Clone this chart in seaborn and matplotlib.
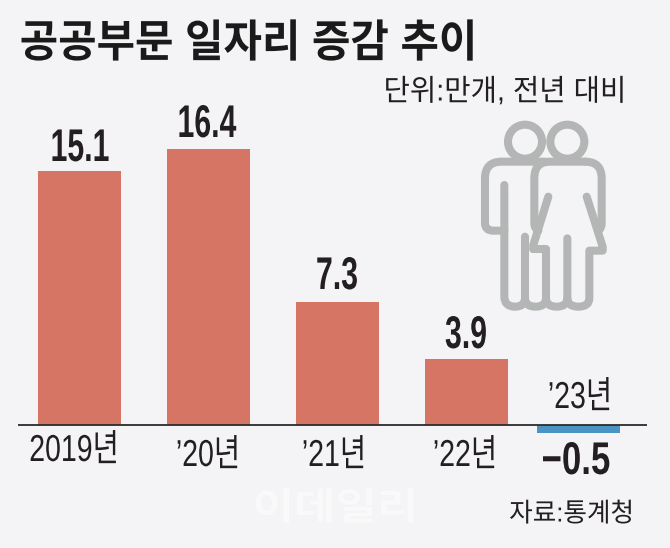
import matplotlib
matplotlib.use("Agg")
import pandas as pd
import seaborn as sns
from matplotlib import pyplot as plt
from matplotlib.patches import Circle, PathPatch
from matplotlib.patheffects import AbstractPathEffect
from matplotlib.path import Path
from matplotlib.transforms import Affine2D

categories = ["2019년", "’20년", "’21년", "’22년", "’23년"]
values = [15.1, 16.4, 7.3, 3.9, -0.5]
value_labels = ["15.1", "16.4", "7.3", "3.9", "\u22120.5"]
bar_colors = ["#D67564", "#D67564", "#D67564", "#D67564", "#4A94C4"]

BG = "#F4F4F6"
INK = "#231F20"
GREY = "#B4B6B5"
BASE = 424.5
PX_PER_UNIT = 16.77
DPI = 100

sns.set_theme(style="white")
plt.rcParams["font.family"] = ["Liberation Sans", "Noto Sans CJK KR", "DejaVu Sans"]

fig = plt.figure(figsize=(6.7, 5.48), dpi=DPI, facecolor=BG)

# main axes fill the figure: 129 px between bars
ax = fig.add_axes([0, 0, 1, 1])
df = pd.DataFrame({"year": categories, "value": values})
sns.barplot(data=df, x="year", y="value", hue="year", palette=bar_colors,
            legend=False, width=0.643, saturation=1, linewidth=0, ax=ax)
ax.set_xlim(-79.5 / 129, (670 - 79.5) / 129)
ax.set_ylim((BASE - 548) / PX_PER_UNIT, BASE / PX_PER_UNIT)
ax.axis("off")
# last bar sits closer to the others in the original
ax.patches[4].set_x(ax.patches[4].get_x() - 17 / 129)

# overlay in pixels for texts and icon
ov = fig.add_axes([0, 0, 1, 1])
ov.set_xlim(0, 670)
ov.set_ylim(548, 0)
ov.axis("off")
ov.patch.set_alpha(0)

ov.plot([18, 647], [425.3, 425.3], color="#2B2B2B", lw=1.3, solid_capstyle="butt")


class Squeeze(AbstractPathEffect):
    # the original font is condensed, no installed family has that width
    def __init__(self, x0, sx):
        super().__init__()
        self.x0 = x0
        self.sx = sx

    def draw_path(self, renderer, gc, tpath, affine, rgbFace=None):
        squeezed = affine + Affine2D().translate(-self.x0, 0).scale(self.sx, 1).translate(self.x0, 0)
        renderer.draw_path(gc, tpath, squeezed, rgbFace)


def put(x, y, s, size, sx=1.0, weight="normal", color=INK):
    t = ov.text(x, y, s, fontsize=size, fontweight=weight, ha="center", va="center", color=color)
    t.set_path_effects([Squeeze(x, sx)])
    return t


put(248.5, 45, "공공부문 일자리 증감 추이", 32, 0.94, "bold", "#1A1A1A")
put(505, 92, "단위:만개, 전년 대비", 21.5, 0.96)

label_pos = [(80, 149), (207, 125), (337, 277), (466, 336), (576, 462)]
label_squeeze = [0.66, 0.66, 0.66, 0.66, 0.76]
for (x, y), s, sx in zip(label_pos, value_labels, label_squeeze):
    put(x, y, s, 33, sx, "bold")

tick_pos = [(74, 451), (208, 456), (334, 456), (465, 456), (580, 398)]
for (x, y), s in zip(tick_pos, categories):
    put(x, y, s, 27, 0.76)

put(571.5, 514.5, "자료:통계청", 19, 0.97)
put(335.5, 509.5, "이데일리", 27, 1.2, "bold", "#F9F9FA")


def ix(zx):
    return 470 + zx / 3


def iy(zy):
    return 110 + zy / 3


def stroke(verts, codes):
    pts = [(ix(a), iy(b)) for a, b in verts]
    ov.add_patch(PathPatch(Path(pts, codes), fill=False, edgecolor=GREY, lw=5.8,
                           capstyle="round", joinstyle="round"))


M, L, C = Path.MOVETO, Path.LINETO, Path.CURVE3

# heads
for cx in (165, 292):
    ov.add_patch(Circle((ix(cx), iy(95)), 17, fill=False, edgecolor=GREY, lw=5.8))

# man: arm, shoulder, legs
stroke([(225, 155), (95, 155), (45, 155), (45, 205), (45, 340), (45, 362), (70, 362), (103, 362)],
       [M, L, C, C, L, C, C, L])
stroke([(103, 225), (103, 560), (103, 590), (135, 590), (165, 590), (165, 565)],
       [M, L, C, C, C, C])
stroke([(165, 380), (165, 565), (165, 590), (197, 590), (228, 590), (228, 565), (228, 417), (190, 417)],
       [M, L, C, C, C, C, L, L])
# woman: shoulders, arms, dress, legs
stroke([(345, 155), (240, 155), (193, 155), (193, 205), (193, 340), (193, 355), (205, 362)],
       [M, L, C, C, L, C, C])
stroke([(345, 155), (395, 155), (395, 205), (395, 340), (395, 355), (385, 362)],
       [M, C, C, L, C, C])
stroke([(235, 260), (190, 405), (190, 417)], [M, L, L])
stroke([(350, 260), (398, 410), (398, 422), (358, 422), (358, 565), (358, 590), (325, 590), (292, 590), (292, 565)],
       [M, L, L, L, L, C, C, C, C])
stroke([(228, 565), (228, 590), (260, 590), (292, 590), (292, 565), (292, 385)],
       [M, C, C, C, C, L])

fig.savefig("out.png", dpi=DPI, facecolor=BG)
